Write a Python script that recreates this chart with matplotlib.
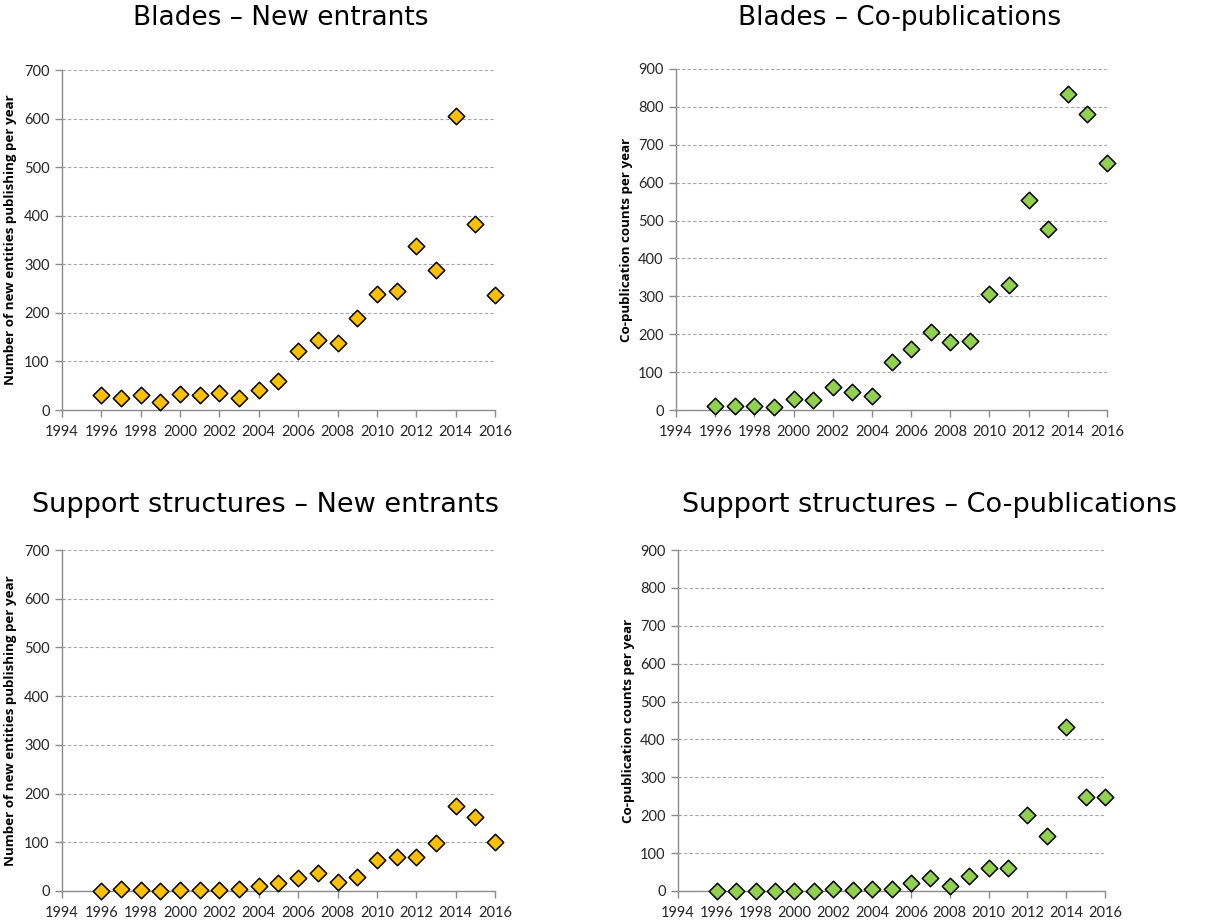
import matplotlib
matplotlib.use("Agg")
import matplotlib.pyplot as plt

years = list(range(1996, 2017))

blades_new_entrants = [30, 24, 30, 16, 33, 31, 36, 24, 41, 60, 121, 145, 138,
                       190, 239, 246, 338, 289, 605, 382, 236]
blades_copubs = [11, 11, 11, 9, 29, 27, 61, 48, 36, 128, 161, 207, 180,
                 182, 307, 330, 555, 479, 835, 781, 651]
support_new_entrants = [0, 4, 2, 0, 2, 2, 3, 5, 10, 17, 27, 36, 18,
                        29, 64, 70, 70, 99, 174, 152, 101]
support_copubs = [0, 0, 0, 0, 0, 0, 4, 2, 4, 4, 22, 33, 12,
                  40, 62, 62, 200, 146, 434, 247, 249]

titles = ["Blades \u2013 New entrants", "Blades \u2013 Co-publications",
          "Support structures \u2013 New entrants",
          "Support structures \u2013 Co-publications"]
ylabel_new = "Number of new entities publishing per year"
ylabel_cop = "Co-publication counts per year"

ORANGE = "#FFC000"
GREEN = "#92D050"
AXIS_GREY = "#8C8C8C"
GRID_GREY = "#A6A6A6"

W, H = 1215, 923
fig = plt.figure(figsize=(W / 100, H / 100), dpi=100)
fig.patch.set_facecolor("white")


def px_axes(left, top, right, bottom):
    return fig.add_axes([left / W, 1 - bottom / H, (right - left) / W, (bottom - top) / H])


panels = [
    (px_axes(62, 70, 495, 410), blades_new_entrants, ORANGE, 700, ylabel_new, 17),
    (px_axes(676, 69, 1107, 410), blades_copubs, GREEN, 900, ylabel_cop, 633),
    (px_axes(62, 550, 495, 891), support_new_entrants, ORANGE, 700, ylabel_new, 17),
    (px_axes(678, 550, 1105, 891), support_copubs, GREEN, 900, ylabel_cop, 635),
]

tick_family = ["Lato", "DejaVu Sans"]
tick_size = 10.5

for ax, values, colour, ymax, ylabel, ylab_x in panels:
    ax.scatter(years, values, marker="D", s=70, facecolor=colour,
               edgecolor="black", linewidth=1.1, zorder=3, clip_on=False)
    ax.set_xlim(1994, 2016)
    ax.set_ylim(0, ymax)
    ax.set_xticks(range(1994, 2017, 2))
    ax.set_yticks(range(0, ymax + 1, 100))
    ax.yaxis.grid(True, linestyle=(0, (3, 2)), color=GRID_GREY, linewidth=0.8)
    ax.set_axisbelow(True)
    for side in ("top", "right"):
        ax.spines[side].set_visible(False)
    for side in ("left", "bottom"):
        ax.spines[side].set_color(AXIS_GREY)
        ax.spines[side].set_linewidth(1.0)
    ax.tick_params(axis="both", colors=AXIS_GREY, length=5, width=1.0,
                   direction="out", labelcolor="#262626")
    ax.tick_params(axis="y", pad=4)
    ax.tick_params(axis="x", pad=6)
    for lab in ax.get_xticklabels() + ax.get_yticklabels():
        lab.set_fontfamily(tick_family)
        lab.set_fontsize(tick_size)
    ax.set_ylabel(ylabel, fontsize=9.6, fontweight="bold",
                  family=["Open Sans", "DejaVu Sans"], color="black")
    ax.yaxis.set_label_coords((ylab_x - ax.get_position().x0 * W) /
                              (ax.get_position().width * W), 0.5)

# (text, centre x, centre y, size) in pixels
title_specs = [(titles[0], 281, 18, 19), (titles[1], 900, 18, 19),
               (titles[2], 266, 505, 19.5), (titles[3], 930, 505, 19.5)]
for text, x, y, size in title_specs:
    fig.text(x / W, 1 - y / H, text, ha="center", va="center",
             fontsize=size, family=["DejaVu Sans"], color="black")

fig.savefig("out.png", dpi=100, facecolor="white")
